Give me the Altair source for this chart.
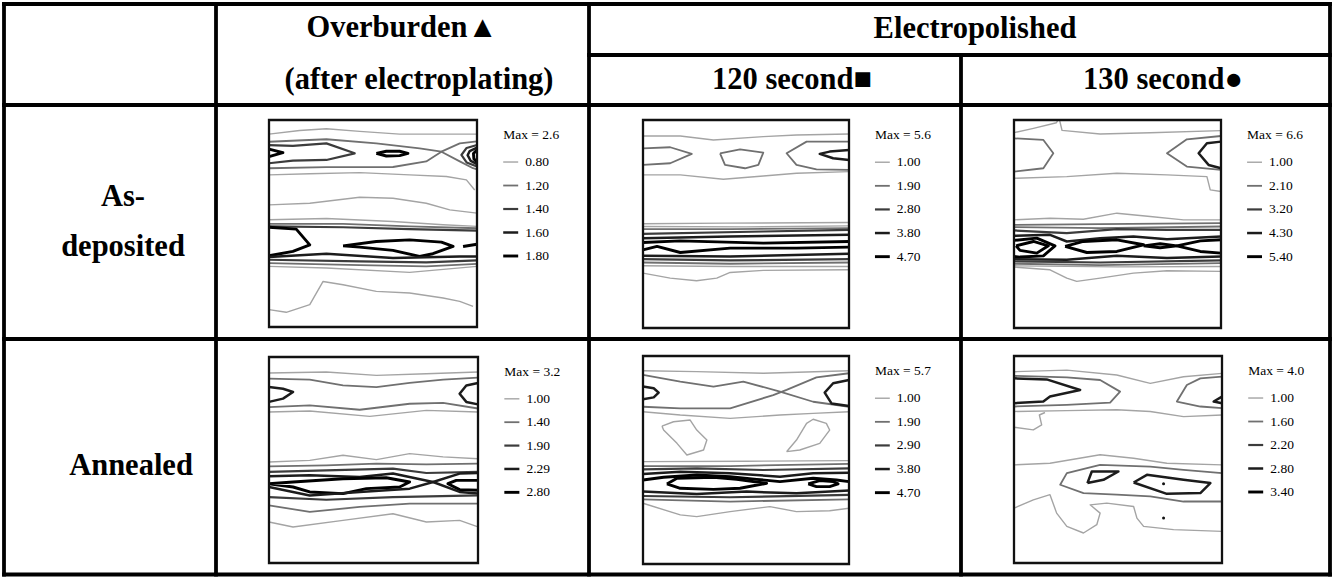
import altair as alt
import pandas as pd

# ---------------------------------------------------------------- data
COLUMN_TITLES = ["Overburden\u25B2", "(after electroplating)", "Electropolished",
                 "120 second\u25A0", "130 second\u25CF"]
ROW_TITLES = ["As-", "deposited", "Annealed"]

PANEL_MAX = ["Max = 2.6", "Max = 5.6", "Max = 6.6", "Max = 3.2", "Max = 5.7", "Max = 4.0"]
PANEL_LEVELS = [
    ["0.80", "1.20", "1.40", "1.60", "1.80"],
    ["1.00", "1.90", "2.80", "3.80", "4.70"],
    ["1.00", "2.10", "3.20", "4.30", "5.40"],
    ["1.00", "1.40", "1.90", "2.29", "2.80"],
    ["1.00", "1.90", "2.90", "3.80", "4.70"],
    ["1.00", "1.60", "2.20", "2.80", "3.40"],
]

# contour lines per panel: (level index 1..5, [(x, y), ...]) in sample units 0..100 (y from top)
P1 = [
    (1, [(0, 6.8), (14.7, 5.1), (27.6, 4.2), (43.6, 5.5), (62.8, 6.8), (100, 6.8)]),
    (2, [(0, 10.5), (27.6, 9.3), (51.6, 11.3), (72.4, 13.7), (82.9, 15.3), (91.7, 20), (98.1, 23.3), (100, 23.8)]),
    (2, [(0, 23.3), (27.6, 22.8), (59.6, 22.7), (75.6, 20), (82.9, 15.3), (91.7, 11.3), (100, 10.3)]),
    (3, [(0, 12.1), (11.5, 12.5), (27.6, 11.3), (41.2, 16.1), (27.6, 19.3), (11.5, 19.6), (0, 20.9)]),
    (5, [(0, 14.1), (6.7, 15.8), (0, 17.7)]),
    (5, [(51.6, 16.1), (56.4, 15.1), (62.8, 15.1), (66.8, 16.1), (62.8, 17.2), (56.4, 17.4), (51.6, 16.1)]),
    (3, [(100, 12.1), (95, 13.5), (92.5, 16.9), (95, 20.5), (100, 22.5)]),
    (4, [(100, 13.3), (96.5, 15), (95.5, 17), (97, 19.8), (100, 21.3)]),
    (5, [(100, 14.5), (98.3, 16.2), (98.5, 18.8), (100, 20.2)]),
    (1, [(0, 26.5), (19.6, 26), (43.6, 25.4), (67.6, 26.5), (85.3, 27.3), (94.9, 28.9), (98.9, 33.8)]),
    (1, [(0, 41), (19.6, 40.2), (43.6, 37.3), (59.6, 37.8), (75.6, 40.2), (86.9, 43.4), (100, 45)]),
    (1, [(0, 48.2), (27.6, 47.6), (59.6, 49), (83.7, 50.6), (100, 51.4)]),
    (2, [(0, 50.2), (35.6, 50.2), (67.6, 51.4), (100, 52.3)]),
    (3, [(0, 51.4), (35.6, 51.8), (67.6, 52.7), (100, 53.4)]),
    (5, [(0, 51.8), (13.1, 52.7), (19.6, 60.3), (11.5, 63.5), (0, 65.6)]),
    (5, [(35.6, 60.8), (51.6, 58.7), (67.6, 57.9), (82.9, 59), (88.5, 61.1), (78.8, 64.6), (72.4, 65.9),
         (59.6, 63), (43.6, 61.4), (35.6, 60.8)]),
    (5, [(93.3, 61.1), (100, 60)]),
    (4, [(0, 66.2), (27.6, 64.6), (59.6, 66.7), (91.7, 65.9), (100, 65.9)]),
    (3, [(0, 67.5), (43.6, 68.3), (75.6, 68.8), (100, 67.8)]),
    (2, [(0, 69.1), (43.6, 70.1), (75.6, 70.7), (100, 69.5)]),
    (1, [(0, 70.7), (27.6, 71.5), (67.6, 73.6), (100, 70.7)]),
    (1, [(0, 91.6), (8.3, 92.9), (19.6, 89.2), (26, 78), (35.6, 79.6), (51.6, 82.8), (67.6, 83.6),
         (83.7, 86), (91.7, 87.6), (98.1, 90)]),
]
P2 = [
    (1, [(0, 7.7), (18.1, 7.7), (34.2, 9.6), (58.4, 8), (74.5, 7.2), (100, 6.7)]),
    (2, [(0, 13.6), (13.2, 13.1), (23.7, 16.3), (13.2, 20.8), (0, 21.6)]),
    (2, [(37.4, 16), (47.1, 14.1), (58.4, 15.7), (56, 21.6), (49.5, 23.2), (39.8, 21.6), (37.4, 16)]),
    (2, [(100, 10.4), (79.4, 10.4), (69.7, 16), (74.5, 21.6), (84.2, 23.7), (100, 24)]),
    (4, [(100, 14.4), (90.6, 15.2), (85.8, 16.3), (92.3, 18.4), (100, 19.2)]),
    (1, [(0, 26.4), (18.1, 26.4), (39, 28.5), (58.4, 26.9), (74.5, 25.6), (100, 24.8)]),
    (1, [(0, 49.9), (40, 49.6), (100, 49.3)]),
    (1, [(0, 51.2), (50, 51.4), (100, 50.9)]),
    (2, [(0, 52.5), (42, 52.5), (100, 52)]),
    (3, [(0, 54.7), (58.4, 53.6), (100, 52.8)]),
    (4, [(0, 56.8), (42, 56), (100, 55.2)]),
    (5, [(0, 58.9), (18, 58.1), (58.4, 59.2), (100, 58.4)]),
    (5, [(0, 62.4), (6.8, 60.8), (18.1, 63.7), (42.3, 61.6), (74.5, 61.6), (100, 61.1)]),
    (4, [(0, 65.3), (42.3, 65.6), (100, 64.3)]),
    (3, [(0, 66.9), (42.3, 67.5), (100, 66.9)]),
    (2, [(0, 68.5), (42.3, 69.1), (100, 68.5)]),
    (1, [(0, 70.1), (42.3, 70.4), (100, 70.4)]),
    (1, [(0, 73.6), (13.2, 76), (26, 77.3), (35.8, 76), (42.3, 73.3), (58.4, 72.3), (100, 72)]),
]
P3 = [
    (1, [(0, 6.1), (9.4, 4), (20.5, 1.3), (21.3, 0)]),
    (1, [(22, 0), (23.2, 5), (41.6, 6.7), (65.8, 6.1), (100, 5.1)]),
    (2, [(0, 8.8), (14.2, 9.6), (19, 16), (14.2, 23.2), (0, 24.8)]),
    (2, [(100, 7.7), (83.5, 9.3), (73.9, 16), (83.5, 22.4), (100, 24)]),
    (4, [(100, 10.4), (93.2, 11.2), (89.2, 16), (94, 21.6), (100, 23.2)]),
    (1, [(0, 28), (25.5, 27.2), (49.7, 25.6), (73.9, 26.4), (93.2, 27.2), (94.8, 33.6), (100, 34.4)]),
    (1, [(0, 48), (17.4, 47.2), (33.5, 47.7), (49.7, 44.8), (65.8, 46.4), (81.9, 48), (100, 48)]),
    (2, [(0, 50.4), (41.6, 50.1), (100, 49.6)]),
    (2, [(0, 51.5), (41.6, 52), (100, 51.2)]),
    (3, [(0, 53.1), (25.5, 54.4), (49.7, 52.5), (73.9, 52.8), (100, 52.8)]),
    (4, [(0, 55.7), (17.4, 55.2), (25.5, 58.4), (41.6, 56.8), (57.7, 56), (73.9, 57.3), (100, 56)]),
    (5, [(0, 57.9), (11, 56.8), (19.8, 60.5), (14.2, 65.3), (2.9, 65.9), (0, 65.6)]),
    (5, [(1, 60.5), (9.4, 58.4), (16.6, 60.5), (11, 64), (2.9, 62.7), (1, 60.5)]),
    (5, [(24.7, 60.8), (33.5, 58.4), (49.7, 57.6), (62.6, 60), (49.7, 63.2), (35.2, 63.7), (24.7, 60.8)]),
    (5, [(62.6, 60.5), (70.6, 59.5), (78.7, 60.5), (70.6, 61.4), (62.6, 60.5)]),
    (5, [(100, 57.6), (90, 58.1), (78.7, 60.5), (90, 63.2), (100, 64)]),
    (4, [(0, 66.9), (25.5, 67.2), (49.7, 65.3), (73.9, 66.4), (100, 65.6)]),
    (3, [(0, 68), (41.6, 68.5), (100, 67.5)]),
    (2, [(0, 69.1), (41.6, 69.8), (100, 68.8)]),
    (1, [(0, 70.1), (50, 70.6), (100, 70.4)]),
    (1, [(0, 70.7), (17.4, 72), (25.5, 76), (30.3, 77.6), (41.6, 76), (57.7, 73.6), (73.9, 72.5), (100, 72.8)]),
]
P4 = [
    (1, [(0, 7.8), (27.4, 7.3), (51.4, 8.9), (75.3, 8.1), (100, 7.3)]),
    (2, [(0, 10.5), (19.5, 11), (35.4, 13.8), (51.4, 14.6), (67.3, 12.6), (83.3, 11), (100, 10)]),
    (4, [(0, 14.6), (6.7, 15.4), (11.5, 17), (6.7, 20.2), (0, 21.8)]),
    (4, [(100, 12.6), (94.4, 13.8), (91.2, 17.8), (94.4, 21.8), (100, 23)]),
    (2, [(0, 24.3), (19.5, 23.5), (43.4, 25.6), (67.3, 22.7), (83.3, 22.3), (100, 25)]),
    (1, [(0, 26.7), (19.5, 26.2), (48.2, 28.8), (75.3, 25.9), (100, 26.7)]),
    (1, [(0, 51), (19.5, 50.2), (35.4, 47.7), (51.4, 49.8), (67.3, 46.9), (83.3, 48.5), (100, 49.4)]),
    (2, [(0, 53.1), (27.4, 52.6), (51.4, 51.8), (75.3, 52.1), (100, 51.8)]),
    (3, [(0, 55.8), (27.4, 55), (59.3, 54.2), (75.3, 56.3), (100, 55.8)]),
    (4, [(0, 57.9), (19.5, 57.4), (43.4, 58.3), (59.3, 56.6), (78.5, 60.7), (91.2, 56.6), (100, 56.3)]),
    (5, [(0, 61.5), (11.5, 60.7), (35.4, 59.1), (56.1, 58.6), (67.3, 60.7), (62.5, 63.1), (46.6, 63.9),
         (35.4, 66.3), (19.5, 65.5), (11.5, 63.1), (0, 61.5)]),
    (5, [(100, 59.9), (89.6, 59.9), (85.6, 61.5), (91.2, 64.4), (100, 64.7)]),
    (4, [(0, 63.1), (19.5, 67.2), (43.4, 65.5), (67.3, 63.9), (78.5, 60.7), (91.2, 65.5), (100, 66.3)]),
    (3, [(0, 68), (27.4, 69.3), (59.3, 68), (100, 67.2)]),
    (2, [(0, 72), (19.5, 75.2), (43.4, 72.8), (67.3, 71.2), (100, 71.2)]),
    (1, [(0, 80.1), (11.5, 82.5), (35.4, 79.3), (59.3, 76.1), (75.3, 80.1), (91.2, 79.3), (100, 82.5)]),
]
P5 = [
    (1, [(0, 7.1), (26.1, 7.5), (58.4, 8.3), (100, 7.1)]),
    (2, [(0, 9.1), (18.1, 12.3), (34.2, 14.7), (48.7, 12.3), (66.5, 17.1), (82.6, 22), (100, 24.4)]),
    (2, [(0, 24.4), (18.1, 25.2), (42.3, 25.2), (63.2, 18.8), (69.7, 16.3), (84.2, 10.3), (100, 8.3)]),
    (4, [(0, 14.7), (5.2, 15.5), (7.6, 17.6), (5.2, 19.9), (0, 20.8)]),
    (4, [(100, 11.5), (92.3, 13.1), (88.2, 17.6), (91.5, 22.8), (100, 24)]),
    (1, [(0, 26.8), (18.1, 28.4), (42.3, 30), (66.5, 28.4), (82.6, 27.6), (100, 26.8)]),
    (1, [(9.2, 33.7), (14.8, 31.6), (22.9, 30.8), (26.1, 35.6), (31, 40.4), (29.4, 45.2), (21.3, 47.6),
         (16.5, 42), (10, 35.6), (9.2, 33.7)]),
    (1, [(69.7, 46), (74.5, 40.4), (79.4, 32.4), (82.6, 30.4), (89, 32.4), (90.6, 35.6), (85.8, 42),
         (76.1, 45.2), (69.7, 46)]),
    (1, [(0, 50.8), (50, 50.6), (100, 50.3)]),
    (2, [(0, 52.9), (42.3, 52.9), (100, 51.9)]),
    (3, [(0, 54.5), (26.1, 54), (58.4, 54.8), (100, 54)]),
    (4, [(0, 56.7), (18.1, 55.6), (42.3, 56.4), (66.5, 58), (82.6, 56.4), (100, 56.1)]),
    (5, [(0, 59.6), (10, 58.3), (26.1, 57.2), (42.3, 58), (55.2, 59.3), (66.5, 60.4), (82.6, 58.8),
         (93.9, 59.6), (100, 60.4)]),
    (5, [(11.6, 61.5), (16.5, 58.8), (34.2, 58.3), (45.5, 59.3), (60, 61.2), (47.1, 63.6), (34.2, 64.1),
         (18.1, 63.6), (11.6, 61.5)]),
    (5, [(80.2, 61.5), (85.8, 59.9), (92.3, 60.4), (94.7, 61.5), (90.6, 62.8), (84.2, 62.8), (80.2, 61.5)]),
    (4, [(0, 65.2), (26.1, 66.3), (50.3, 65.2), (74.5, 66), (100, 64.7)]),
    (3, [(0, 67.3), (42.3, 67.9), (100, 66.8)]),
    (2, [(0, 68.9), (42.3, 70), (100, 68.9)]),
    (1, [(0, 70.8), (18.1, 76.4), (26.1, 77.2), (42.3, 74.8), (61.6, 72.4), (74.5, 74.8), (90.6, 74.4), (100, 73.2)]),
]
P6 = [
    (1, [(0, 7.6), (25.4, 6.8), (49.4, 9.2), (65.5, 13.2), (81.5, 10), (100, 8.4)]),
    (2, [(0, 9.6), (25.4, 10.3), (41.4, 11.6), (51, 17.2), (46.2, 22.5), (25.4, 23.6), (0, 24.4)]),
    (4, [(0, 10.8), (15.7, 11.3), (31.8, 16.4), (17.3, 19.6), (14.1, 22), (0, 22.8)]),
    (2, [(100, 10), (89.6, 10.8), (83.1, 14), (78.3, 22), (89.6, 24.4), (100, 25.2)]),
    (4, [(100, 19.6), (96, 22), (100, 22.8)]),
    (1, [(0, 26.8), (25.4, 26.4), (49.4, 26), (65.5, 26.8), (81.5, 29.3), (100, 28.5)]),
    (1, [(0, 34.4), (9.3, 35.7), (13.3, 33.3), (12.2, 28.5), (14.9, 27.3)]),
    (1, [(0, 52.6), (17.3, 51.8), (41.4, 47.7), (57.5, 49.4), (73.5, 51.8), (100, 52.6)]),
    (2, [(100, 56.6), (81.5, 55), (65.5, 53.4), (41.4, 52.6), (25.4, 56.6), (22.2, 62.2), (33.4, 66.2),
         (49.4, 67), (65.5, 67.8), (81.5, 70.3), (100, 70.3)]),
    (4, [(35.3, 61.4), (37.4, 55.8), (50.2, 55.8), (43, 59.8), (35.3, 61.4)]),
    (4, [(57.5, 61.1), (63.9, 57.4), (81.5, 59.8), (94.4, 61.4), (89.6, 66.2), (73.5, 66.6), (57.5, 61.1)]),
    (1, [(0, 73.5), (9.3, 69.5), (17.3, 67), (20.5, 75.9), (25.4, 82.3), (33.4, 85.5), (39.8, 81.5),
         (41.4, 75.9), (36.6, 71.9), (44.6, 71.1), (57.5, 72.7), (59.1, 78.3), (62.3, 82.3), (76.7, 83.9),
         (100, 84.7)]),
]
CONTOURS = [P1, P2, P3, P4, P5, P6]
PEAK_DOTS = [[], [], [], [], [], [(71.9, 61.7), (71.9, 78.3)]]

# ---------------------------------------------------------------- layout / style
W, H = 1333, 577
GRID = [  # x, x2, y, y2 (table rules)
    (4, 1330, 4, 4), (4, 1330, 574.5, 574.5), (4, 4, 4, 574.5), (1330, 1330, 4, 574.5),
    (216, 216, 4, 574.5), (589, 589, 4, 574.5), (961, 961, 55, 574.5),
    (589, 1330, 55, 55), (4, 1330, 105, 105), (4, 1330, 339, 339),
]
HEADER_POS = [(402, 28), (419, 80), (975, 29), (792, 80), (1163, 80)]
ROW_POS = [(123, 197), (123, 247), (131, 466)]
PANEL_FRAMES = [(269, 120, 477, 327), (643, 120, 849, 328), (1014, 120, 1221, 328),
                (269, 357, 478, 563), (643, 356, 849, 564), (1014, 356, 1222, 563)]
LEVEL_COLORS = ["#a4a4a4", "#707070", "#3c3c3c", "#1c1c1c", "#000000"]
LEVEL_WIDTHS = [1.4, 1.8, 2.2, 2.5, 2.9]
LEG_SEG = (112.6, 119.8)
LEG_TX = 123.2
LEG_MAX_Y = 7.2
LEG_Y0, LEG_DY = 20.3, 11.35
BOLD_SIZE = 30.5
SERIF = "Liberation Serif"

COLOR_EXPR = "[" + ",".join(f"'{c}'" for c in ["#000000"] + LEVEL_COLORS) + "][datum.level]"
WIDTH_EXPR = "[" + ",".join(str(w) for w in [1] + LEVEL_WIDTHS) + "][datum.level]"

# ---------------------------------------------------------------- table
cx = alt.Scale(domain=[0, W], range=[0, W], nice=False, zero=False)
cy = alt.Scale(domain=[0, H], range=[0, H], nice=False, zero=False)

grid_df = pd.DataFrame(GRID, columns=["x", "x2", "y", "y2"])
grid = alt.Chart(grid_df).mark_rule(color="black", strokeWidth=3.8, strokeCap="square").encode(
    x=alt.X("x:Q", scale=cx, axis=None), x2="x2:Q",
    y=alt.Y("y:Q", scale=cy, axis=None), y2="y2:Q",
)
text_df = pd.DataFrame({
    "label": COLUMN_TITLES + ROW_TITLES,
    "x": [p[0] for p in HEADER_POS + ROW_POS],
    "y": [p[1] for p in HEADER_POS + ROW_POS],
})
texts = alt.Chart(text_df).mark_text(font=SERIF, fontWeight="bold", fontSize=BOLD_SIZE,
                                     align="center", baseline="middle", color="black").encode(
    x=alt.X("x:Q", scale=cx, axis=None), y=alt.Y("y:Q", scale=cy, axis=None), text="label:N",
)
table = alt.layer(grid, texts)


# ---------------------------------------------------------------- panels
def panel(i):
    x0, y0, x1, y1 = PANEL_FRAMES[i]
    sx = alt.Scale(domain=[0, 100], range=[x0, x1], nice=False, zero=False)
    sy = alt.Scale(domain=[0, 100], range=[y0, y1], nice=False, zero=False)

    rows = []
    for j, (lvl, pts) in enumerate(CONTOURS[i]):
        for k, (px, py) in enumerate(pts):
            rows.append({"line": j, "level": lvl, "ord": k, "x": px, "y": py})
    df = pd.DataFrame(rows)
    lines = alt.Chart(df).transform_calculate(col=COLOR_EXPR, sw=WIDTH_EXPR).mark_line(
        strokeJoin="round").encode(
        x=alt.X("x:Q", scale=sx, axis=None),
        y=alt.Y("y:Q", scale=sy, axis=None),
        detail="line:N", order="ord:Q",
        color=alt.Color("col:N", scale=None),
        strokeWidth=alt.StrokeWidth("sw:Q", scale=None),
    )
    layers = [lines]
    if PEAK_DOTS[i]:
        dots = alt.Chart(pd.DataFrame(PEAK_DOTS[i], columns=["x", "y"])).mark_circle(
            size=9, color="#111111", opacity=1).encode(
            x=alt.X("x:Q", scale=sx, axis=None), y=alt.Y("y:Q", scale=sy, axis=None))
        layers.append(dots)

    frame = alt.Chart(pd.DataFrame({"x0": [0], "x1": [100], "y0": [0], "y1": [100]})).mark_rect(
        fillOpacity=0, stroke="#111111", strokeWidth=2.3).encode(
        x=alt.X("x0:Q", scale=sx, axis=None), x2="x1:Q",
        y=alt.Y("y0:Q", scale=sy, axis=None), y2="y1:Q")
    layers.append(frame)

    leg_df = pd.DataFrame({"level": [1, 2, 3, 4, 5], "label": PANEL_LEVELS[i]})
    leg = alt.Chart(leg_df).transform_calculate(
        ly=f"{LEG_Y0} + (datum.level - 1) * {LEG_DY}",
        sx0=f"{LEG_SEG[0]}", sx1=f"{LEG_SEG[1]}", tx=f"{LEG_TX}",
        col=COLOR_EXPR, sw=WIDTH_EXPR,
    )
    seg = leg.mark_rule().encode(
        x=alt.X("sx0:Q", scale=sx, axis=None), x2="sx1:Q",
        y=alt.Y("ly:Q", scale=sy, axis=None),
        color=alt.Color("col:N", scale=None),
        strokeWidth=alt.StrokeWidth("sw:Q", scale=None),
    )
    lab = leg.mark_text(align="left", baseline="middle", font=SERIF, fontSize=13.5,
                        color="#000000").encode(
        x=alt.X("tx:Q", scale=sx, axis=None), y=alt.Y("ly:Q", scale=sy, axis=None), text="label:N")
    mx = alt.Chart(pd.DataFrame({"label": [PANEL_MAX[i]]})).transform_calculate(
        mx=f"{LEG_SEG[0]}", my=f"{LEG_MAX_Y}").mark_text(
        align="left", baseline="middle", font=SERIF, fontSize=13.5, color="#000000").encode(
        x=alt.X("mx:Q", scale=sx, axis=None), y=alt.Y("my:Q", scale=sy, axis=None), text="label:N")
    layers += [seg, lab, mx]
    return alt.layer(*layers)


panels = [panel(i) for i in range(6)]

chart = alt.layer(table, *panels).resolve_scale(x="independent", y="independent").properties(
    width=W, height=H, padding=0, background="white",
    autosize=alt.AutoSizeParams(type="none"),
).configure_view(strokeWidth=0)

chart.save("out.html", embed_options={"renderer": "svg", "actions": False})
